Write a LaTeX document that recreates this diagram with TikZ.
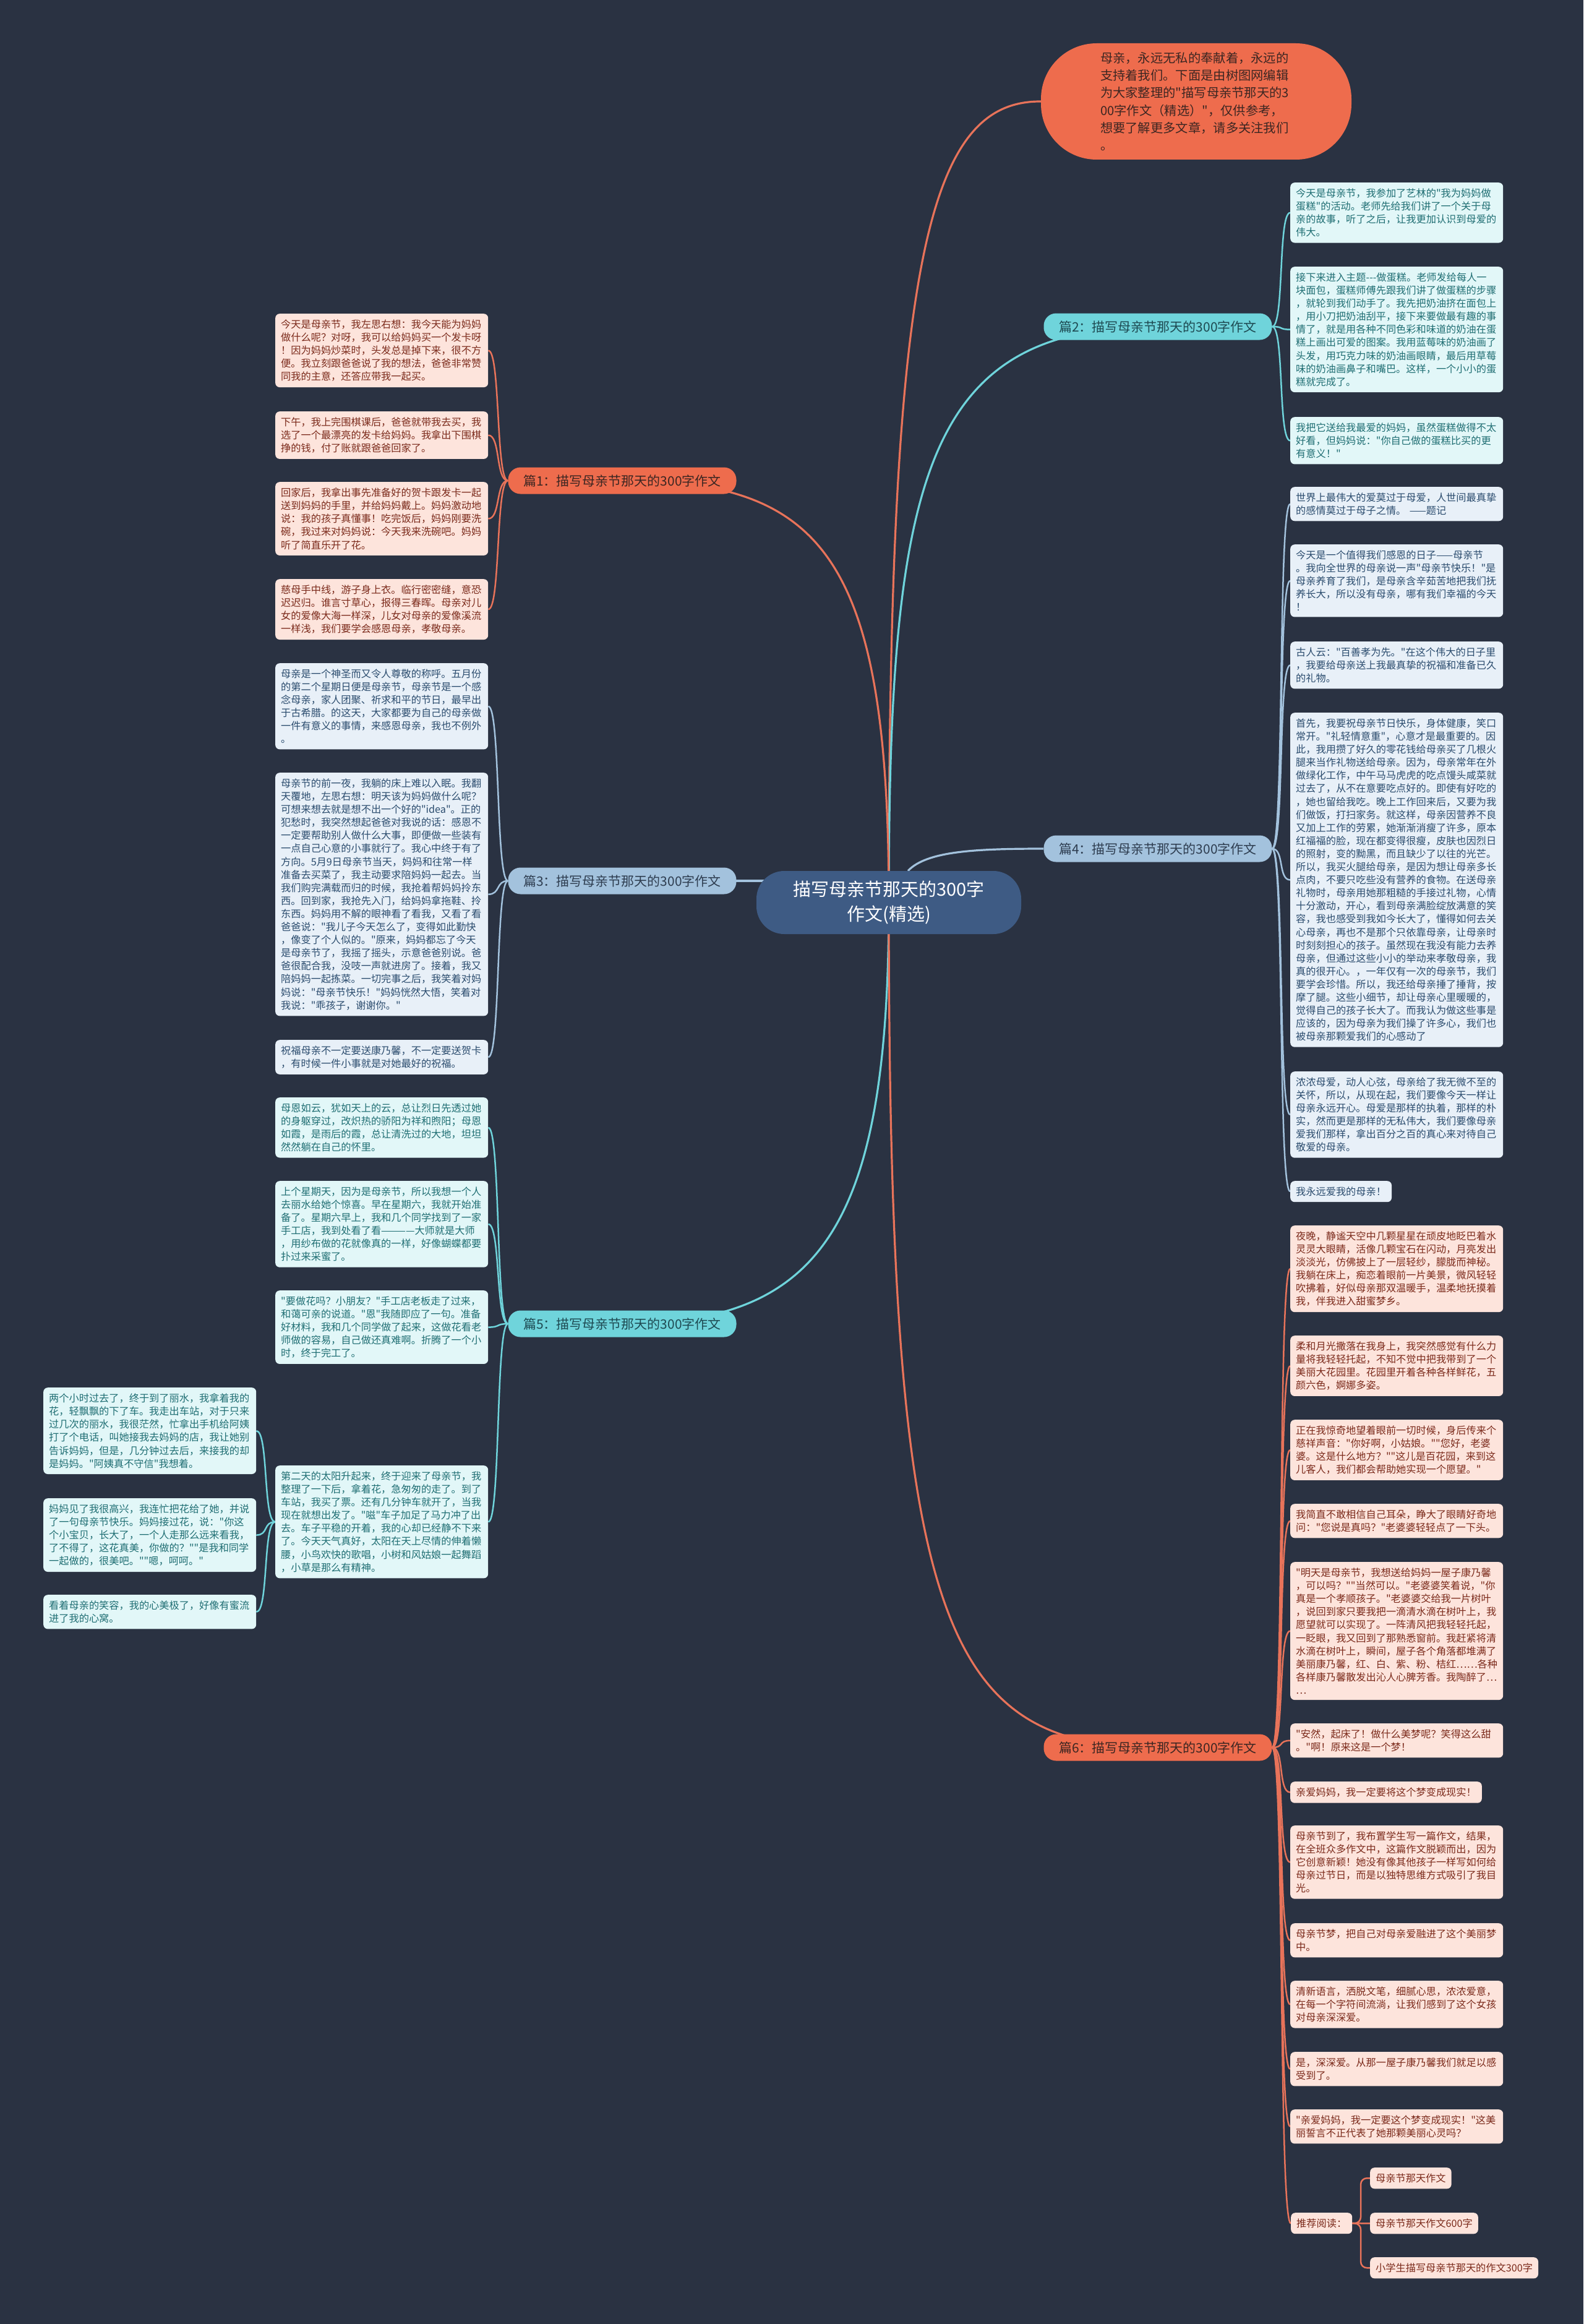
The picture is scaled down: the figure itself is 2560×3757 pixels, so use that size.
\documentclass[tikz,border=0pt]{standalone}
\usepackage{fontspec}
\setmainfont{Noto Sans CJK SC}[Ligatures=TeXOff]
\usetikzlibrary{backgrounds}

\definecolor{bgc}{HTML}{2A3242}
\definecolor{topicc}{HTML}{3E5B84}
\definecolor{orc}{HTML}{EE6C4D}
\definecolor{orline}{HTML}{E8735A}
\definecolor{orleaf}{HTML}{FDE4DC}
\definecolor{ortext}{HTML}{7B2A1B}
\definecolor{orbtext}{HTML}{3C2622}
\definecolor{cyc}{HTML}{6FD4DB}
\definecolor{cyleaf}{HTML}{E2F7F8}
\definecolor{cytext}{HTML}{1F6E73}
\definecolor{cybtext}{HTML}{1E4A52}
\definecolor{stc}{HTML}{A3C2DD}
\definecolor{stleaf}{HTML}{E8F0F8}
\definecolor{sttext}{HTML}{2B4C6E}
\definecolor{stbtext}{HTML}{2E3D50}

\newcommand{\leaffont}{\fontsize{16.2}{21.1}\selectfont}
\newcommand{\branchfont}{\fontsize{21}{25}\selectfont}
\newcommand{\topicfont}{\fontsize{29}{40}\selectfont}
\newcommand{\notefont}{\fontsize{20.3}{28.3}\selectfont}

\tikzset{
  topic/.style={fill=topicc, text=white, rounded corners=45pt, minimum width=428pt,
    minimum height=102pt, inner sep=0pt, align=center, font=\topicfont},
  note/.style={fill=orc, text=orbtext, rounded corners=90pt, minimum width=502pt,
    minimum height=188pt, inner sep=0pt, text width=310pt, align=left, font=\notefont},
  branch/.style={rounded corners=20pt, minimum width=369pt, minimum height=43pt,
    inner sep=0pt, font=\branchfont},
  obranch/.style={branch, fill=orc, text=orbtext},
  cbranch/.style={branch, fill=cyc, text=cybtext},
  sbranch/.style={branch, fill=stc, text=stbtext},
  leaf/.style={anchor=north west, rounded corners=7pt, inner xsep=9pt, inner ysep=9.5pt,
    align=left, font=\leaffont},
  fullw/.style={text width=326pt},
  oleaf/.style={leaf, fill=orleaf, text=ortext},
  cleaf/.style={leaf, fill=cyleaf, text=cytext},
  sleaf/.style={leaf, fill=stleaf, text=sttext},
  oline/.style={draw=orline, line width=2.5pt},
  cline/.style={draw=cyc, line width=2.5pt},
  sline/.style={draw=stc, line width=2.5pt},
  mainline/.style={line width=3.2pt}
}

\begin{document}
\begin{tikzpicture}[x=1pt, y=-1pt]
    \begin{scope}[on background layer]
        \fill[bgc] (0,0) rectangle (2560,3757);
    \end{scope}
    \useasboundingbox (0,0) rectangle (2560,3757);

    % centre and note
    \node[topic] (c) at (1437,1459) {描写母亲节那天的300字\\作文(精选)};
    \node[note] (n) at (1934,164) {母亲，永远无私的奉献着，永远的\\支持着我们。下面是由树图网编辑\\为大家整理的"描写母亲节那天的3\\00字作文（精选）"，仅供参考，\\想要了解更多文章，请多关注我们\\。};

    % branches
    \node[obranch] (b1) at (1006,777) {篇1：描写母亲节那天的300字作文};
    \node[cbranch] (b2) at (1872,528) {篇2：描写母亲节那天的300字作文};
    \node[sbranch] (b3) at (1006,1424) {篇3：描写母亲节那天的300字作文};
    \node[sbranch] (b4) at (1872,1372) {篇4：描写母亲节那天的300字作文};
    \node[cbranch] (b5) at (1006,2140) {篇5：描写母亲节那天的300字作文};
    \node[obranch] (b6) at (1872,2825) {篇6：描写母亲节那天的300字作文};

    % 篇1
    \node[oleaf, fullw] (l1a) at (445,507) {今天是母亲节，我左思右想：我今天能为妈妈\\做什么呢？对呀，我可以给妈妈买一个发卡呀\\！因为妈妈炒菜时，头发总是掉下来，很不方\\便。我立刻跟爸爸说了我的想法，爸爸非常赞\\同我的主意，还答应带我一起买。};
    \node[oleaf, fullw] (l1b) at (445,665) {下午，我上完围棋课后，爸爸就带我去买，我\\选了一个最漂亮的发卡给妈妈。我拿出下围棋\\挣的钱，付了账就跟爸爸回家了。};
    \node[oleaf, fullw] (l1c) at (445,779) {回家后，我拿出事先准备好的贺卡跟发卡一起\\送到妈妈的手里，并给妈妈戴上。妈妈激动地\\说：我的孩子真懂事！吃完饭后，妈妈刚要洗\\碗，我过来对妈妈说：今天我来洗碗吧。妈妈\\听了简直乐开了花。};
    \node[oleaf, fullw] (l1d) at (445,936) {慈母手中线，游子身上衣。临行密密缝，意恐\\迟迟归。谁言寸草心，报得三春晖。母亲对儿\\女的爱像大海一样深，儿女对母亲的爱像溪流\\一样浅，我们要学会感恩母亲，孝敬母亲。};

    % 篇2
    \node[cleaf, fullw] (l2a) at (2086,295) {今天是母亲节，我参加了艺林的"我为妈妈做\\蛋糕"的活动。老师先给我们讲了一个关于母\\亲的故事，听了之后，让我更加认识到母爱的\\伟大。};
    \node[cleaf, fullw] (l2b) at (2086,431) {接下来进入主题---做蛋糕。老师发给每人一\\块面包，蛋糕师傅先跟我们讲了做蛋糕的步骤\\，就轮到我们动手了。我先把奶油挤在面包上\\，用小刀把奶油刮平，接下来要做最有趣的事\\情了，就是用各种不同色彩和味道的奶油在蛋\\糕上画出可爱的图案。我用蓝莓味的奶油画了\\头发，用巧克力味的奶油画眼睛，最后用草莓\\味的奶油画鼻子和嘴巴。这样，一个小小的蛋\\糕就完成了。};
    \node[cleaf, fullw] (l2c) at (2086,674) {我把它送给我最爱的妈妈，虽然蛋糕做得不太\\好看，但妈妈说："你自己做的蛋糕比买的更\\有意义！"};

    % 篇3
    \node[sleaf, fullw] (l3a) at (445,1072) {母亲是一个神圣而又令人尊敬的称呼。五月份\\的第二个星期日便是母亲节，母亲节是一个感\\念母亲，家人团聚、祈求和平的节日，最早出\\于古希腊。的这天，大家都要为自己的母亲做\\一件有意义的事情，来感恩母亲，我也不例外\\。};
    \node[sleaf, fullw] (l3b) at (445,1249) {母亲节的前一夜，我躺的床上难以入眠。我翻\\天覆地，左思右想：明天该为妈妈做什么呢？\\可想来想去就是想不出一个好的"idea"。正的\\犯愁时，我突然想起爸爸对我说的话：感恩不\\一定要帮助别人做什么大事，即便做一些装有\\一点自己心意的小事就行了。我心中终于有了\\方向。5月9日母亲节当天，妈妈和往常一样\\准备去买菜了，我主动要求陪妈妈一起去。当\\我们购完满载而归的时候，我抢着帮妈妈拎东\\西。回到家，我抢先入门，给妈妈拿拖鞋、拎\\东西。妈妈用不解的眼神看了看我，又看了看\\爸爸说："我儿子今天怎么了，变得如此勤快\\，像变了个人似的。"原来，妈妈都忘了今天\\是母亲节了，我摇了摇头，示意爸爸别说。爸\\爸很配合我，没吱一声就进房了。接着，我又\\陪妈妈一起拣菜。一切完事之后，我笑着对妈\\妈说："母亲节快乐！"妈妈恍然大悟，笑着对\\我说："乖孩子，谢谢你。"};
    \node[sleaf, fullw] (l3c) at (445,1681) {祝福母亲不一定要送康乃馨，不一定要送贺卡\\，有时候一件小事就是对她最好的祝福。};

    % 篇4
    \node[sleaf, fullw] (l4a) at (2086,787) {世界上最伟大的爱莫过于母爱，人世间最真挚\\的感情莫过于母子之情。 ——题记};
    \node[sleaf, fullw] (l4b) at (2086,880) {今天是一个值得我们感恩的日子——母亲节\\。我向全世界的母亲说一声"母亲节快乐！"是\\母亲养育了我们，是母亲含辛茹苦地把我们抚\\养长大，所以没有母亲，哪有我们幸福的今天\\！};
    \node[sleaf, fullw] (l4c) at (2086,1037) {古人云："百善孝为先。"在这个伟大的日子里\\，我要给母亲送上我最真挚的祝福和准备已久\\的礼物。};
    \node[sleaf, fullw] (l4d) at (2086,1152) {首先，我要祝母亲节日快乐，身体健康，笑口\\常开。"礼轻情意重"，心意才是最重要的。因\\此，我用攒了好久的零花钱给母亲买了几根火\\腿来当作礼物送给母亲。因为，母亲常年在外\\做绿化工作，中午马马虎虎的吃点馒头咸菜就\\过去了，从不在意要吃点好的。即使有好吃的\\，她也留给我吃。晚上工作回来后，又要为我\\们做饭，打扫家务。就这样，母亲因营养不良\\又加上工作的劳累，她渐渐消瘦了许多，原本\\红福福的脸，现在都变得很瘦，皮肤也因烈日\\的照射，变的黝黑，而且缺少了以往的光芒。\\所以，我买火腿给母亲，是因为想让母亲多长\\点肉，不要只吃些没有营养的食物。在送母亲\\礼物时，母亲用她那粗糙的手接过礼物，心情\\十分激动，开心，看到母亲满脸绽放满意的笑\\容，我也感受到我如今长大了，懂得如何去关\\心母亲，再也不是那个只依靠母亲，让母亲时\\时刻刻担心的孩子。虽然现在我没有能力去养\\母亲，但通过这些小小的举动来孝敬母亲，我\\真的很开心。，一年仅有一次的母亲节，我们\\要学会珍惜。所以，我还给母亲捶了捶背，按\\摩了腿。这些小细节，却让母亲心里暖暖的，\\觉得自己的孩子长大了。而我认为做这些事是\\应该的，因为母亲为我们操了许多心，我们也\\被母亲那颗爱我们的心感动了};
    \node[sleaf, fullw] (l4e) at (2086,1732) {浓浓母爱，动人心弦，母亲给了我无微不至的\\关怀，所以，从现在起，我们要像今天一样让\\母亲永远开心。母爱是那样的执着，那样的朴\\实，然而更是那样的无私伟大，我们要像母亲\\爱我们那样，拿出百分之百的真心来对待自己\\敬爱的母亲。};
    \node[sleaf] (l4f) at (2086,1909) {我永远爱我的母亲！};

    % 篇5
    \node[cleaf, fullw] (l5a) at (445,1774) {母恩如云，犹如天上的云，总让烈日先透过她\\的身躯穿过，改炽热的骄阳为祥和煦阳；母恩\\如霞，是雨后的霞，总让清洗过的大地，坦坦\\然然躺在自己的怀里。};
    \node[cleaf, fullw] (l5b) at (445,1909) {上个星期天，因为是母亲节，所以我想一个人\\去丽水给她个惊喜。早在星期六，我就开始准\\备了。星期六早上，我和几个同学找到了一家\\手工店，我到处看了看————大师就是大师\\，用纱布做的花就像真的一样，好像蝴蝶都要\\扑过来采蜜了。};
    \node[cleaf, fullw] (l5c) at (445,2086) {"要做花吗？小朋友？"手工店老板走了过来，\\和蔼可亲的说道。"恩"我随即应了一句。准备\\好材料，我和几个同学做了起来，这做花看老\\师做的容易，自己做还真难啊。折腾了一个小\\时，终于完工了。};
    \node[cleaf, fullw] (l5d) at (445,2369) {第二天的太阳升起来，终于迎来了母亲节，我\\整理了一下后，拿着花，急匆匆的走了。到了\\车站，我买了票。还有几分钟车就开了，当我\\现在就想出发了。"嗞"车子加足了马力冲了出\\去。车子平稳的开着，我的心却已经静不下来\\了。今天天气真好，太阳在天上尽情的伸着懒\\腰，小鸟欢快的歌唱，小树和风姑娘一起舞蹈\\，小草是那么有精神。};
    \node[cleaf, fullw] (l5da) at (70,2243) {两个小时过去了，终于到了丽水，我拿着我的\\花，轻飘飘的下了车。我走出车站，对于只来\\过几次的丽水，我很茫然，忙拿出手机给阿姨\\打了个电话，叫她接我去妈妈的店，我让她别\\告诉妈妈，但是，几分钟过去后，来接我的却\\是妈妈。"阿姨真不守信"我想着。};
    \node[cleaf, fullw] (l5db) at (70,2422) {妈妈见了我很高兴，我连忙把花给了她，并说\\了一句母亲节快乐。妈妈接过花，说："你这\\个小宝贝，长大了，一个人走那么远来看我，\\了不得了，这花真美，你做的？""是我和同学\\一起做的，很美吧。""嗯，呵呵。"};
    \node[cleaf, fullw] (l5dc) at (70,2578) {看着母亲的笑容，我的心美极了，好像有蜜流\\进了我的心窝。};

    % 篇6
    \node[oleaf, fullw] (l6a) at (2086,1981) {夜晚，静谧天空中几颗星星在顽皮地眨巴着水\\灵灵大眼睛，活像几颗宝石在闪动，月亮发出\\淡淡光，仿佛披上了一层轻纱，朦胧而神秘。\\我躺在床上，痴恋着眼前一片美景，微风轻轻\\吹拂着，好似母亲那双温暖手，温柔地抚摸着\\我，伴我进入甜蜜梦乡。};
    \node[oleaf, fullw] (l6b) at (2086,2159) {柔和月光撒落在我身上，我突然感觉有什么力\\量将我轻轻托起，不知不觉中把我带到了一个\\美丽大花园里。花园里开着各种各样鲜花，五\\颜六色，婀娜多姿。};
    \node[oleaf, fullw] (l6c) at (2086,2295) {正在我惊奇地望着眼前一切时候，身后传来个\\慈祥声音："你好啊，小姑娘。""您好，老婆\\婆。这是什么地方？""这儿是百花园，来到这\\儿客人，我们都会帮助她实现一个愿望。"};
    \node[oleaf, fullw] (l6d) at (2086,2431) {我简直不敢相信自己耳朵，睁大了眼睛好奇地\\问："您说是真吗？"老婆婆轻轻点了一下头。};
    \node[oleaf, fullw] (l6e) at (2086,2525) {"明天是母亲节，我想送给妈妈一屋子康乃馨\\，可以吗？""当然可以。"老婆婆笑着说，"你\\真是一个孝顺孩子。"老婆婆交给我一片树叶\\，说回到家只要我把一滴清水滴在树叶上，我\\愿望就可以实现了。一阵清风把我轻轻托起，\\一眨眼，我又回到了那熟悉窗前。我赶紧将清\\水滴在树叶上，瞬间，屋子各个角落都堆满了\\美丽康乃馨，红、白、紫、粉、桔红……各种\\各样康乃馨散发出沁人心脾芳香。我陶醉了…\\…};
    \node[oleaf, fullw] (l6f) at (2086,2786) {"安然，起床了！做什么美梦呢？笑得这么甜\\。"啊！原来这是一个梦！};
    \node[oleaf] (l6g) at (2086,2880) {亲爱妈妈，我一定要将这个梦变成现实！};
    \node[oleaf, fullw] (l6h) at (2086,2951) {母亲节到了，我布置学生写一篇作文，结果，\\在全班众多作文中，这篇作文脱颖而出，因为\\它创意新颖！她没有像其他孩子一样写如何给\\母亲过节日，而是以独特思维方式吸引了我目\\光。};
    \node[oleaf, fullw] (l6i) at (2086,3109) {母亲节梦，把自己对母亲爱融进了这个美丽梦\\中。};
    \node[oleaf, fullw] (l6j) at (2086,3202) {清新语言，洒脱文笔，细腻心思，浓浓爱意，\\在每一个字符间流淌，让我们感到了这个女孩\\对母亲深深爱。};
    \node[oleaf, fullw] (l6k) at (2086,3317) {是，深深爱。从那一屋子康乃馨我们就足以感\\受到了。};
    \node[oleaf, fullw] (l6l) at (2086,3410) {"亲爱妈妈，我一定要这个梦变成现实！"这美\\丽誓言不正代表了她那颗美丽心灵吗？};
    \node[oleaf] (l6m) at (2087,3577) {推荐阅读：};
    \node[oleaf] (r1) at (2215,3504) {母亲节那天作文};
    \node[oleaf] (r2) at (2215,3577) {母亲节那天作文600字};
    \node[oleaf] (r3) at (2215,3649) {小学生描写母亲节那天的作文300字};

    % connectors
    \begin{scope}[on background layer]
        \draw[oline, mainline] (c.center) .. controls (1437,420) and (1500,163) .. (n.west);
        \draw[cline, mainline] (c.center) .. controls (1437,760) and (1500,528) .. (b2.center);
        \draw[oline, mainline] (c.center) .. controls (1437,900) and (1330,777) .. (b1.center);
        \draw[sline, mainline] (b3.center) -- (c.center |- b3.center);
        \draw[sline, mainline] ([xshift=31pt]c.north) .. controls +(30,-32) and +(-110,0) .. (b4.west);
        \draw[cline, mainline] (c.center) .. controls (1437,1980) and (1330,2140) .. (b5.center);
        \draw[oline, mainline] (c.center) .. controls (1437,2620) and (1520,2825) .. (b6.center);

        \foreach \l in {l1a,l1b,l1c,l1d}
            \draw[oline] (b1.west) .. controls +(-20,0) and +(20,0) .. (\l.east);
        \foreach \l in {l2a,l2b,l2c}
            \draw[cline] (b2.east) .. controls +(20,0) and +(-20,0) .. (\l.west);
        \foreach \l in {l3a,l3b,l3c}
            \draw[sline] (b3.west) .. controls +(-20,0) and +(20,0) .. (\l.east);
        \foreach \l in {l4a,l4b,l4c,l4d,l4e,l4f}
            \draw[sline] (b4.east) .. controls +(20,0) and +(-20,0) .. (\l.west);
        \foreach \l in {l5a,l5b,l5c,l5d}
            \draw[cline] (b5.west) .. controls +(-20,0) and +(20,0) .. (\l.east);
        \foreach \l in {l5da,l5db,l5dc}
            \draw[cline] (l5d.west) .. controls +(-20,0) and +(20,0) .. (\l.east);
        \foreach \l in {l6a,l6b,l6c,l6d,l6e,l6f,l6g,l6h,l6i,l6j,l6k,l6l,l6m}
            \draw[oline] (b6.east) .. controls +(20,0) and +(-20,0) .. (\l.west);
        \draw[oline, rounded corners=10pt] (l6m.east) -| ([xshift=-15pt]r1.west) -- (r1.west);
        \draw[oline] (l6m.east) -- (r2.west);
        \draw[oline, rounded corners=10pt] (l6m.east) -| ([xshift=-15pt]r3.west) -- (r3.west);
    \end{scope}
\end{tikzpicture}
\end{document}
